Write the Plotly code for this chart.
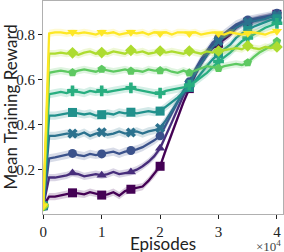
import plotly.graph_objects as go

episodes = [i * 1000 for i in range(41)]

s0 = [0.04, 0.08, 0.08, 0.085, 0.09, 0.097, 0.095, 0.09, 0.10, 0.095, 0.087, 0.09, 0.10, 0.085, 0.105, 0.113, 0.118, 0.125, 0.15, 0.18, 0.215, 0.29, 0.36, 0.43, 0.50, 0.56, 0.62, 0.67, 0.71, 0.74, 0.76, 0.78, 0.80, 0.83, 0.85, 0.855, 0.86, 0.87, 0.875, 0.88, 0.89]
s1 = [0.04, 0.165, 0.165, 0.17, 0.175, 0.185, 0.18, 0.17, 0.175, 0.18, 0.175, 0.18, 0.19, 0.18, 0.185, 0.19, 0.20, 0.215, 0.235, 0.26, 0.295, 0.35, 0.41, 0.47, 0.53, 0.575, 0.63, 0.68, 0.72, 0.755, 0.775, 0.795, 0.815, 0.835, 0.85, 0.86, 0.865, 0.87, 0.875, 0.88, 0.885]
s2 = [0.04, 0.25, 0.255, 0.26, 0.265, 0.272, 0.265, 0.26, 0.27, 0.265, 0.27, 0.275, 0.28, 0.27, 0.28, 0.285, 0.29, 0.30, 0.315, 0.33, 0.35, 0.40, 0.45, 0.50, 0.55, 0.59, 0.645, 0.69, 0.73, 0.765, 0.785, 0.805, 0.825, 0.845, 0.855, 0.865, 0.87, 0.875, 0.88, 0.885, 0.895]
s3 = [0.04, 0.35, 0.35, 0.355, 0.36, 0.36, 0.355, 0.365, 0.35, 0.36, 0.366, 0.355, 0.36, 0.37, 0.36, 0.365, 0.37, 0.36, 0.37, 0.375, 0.385, 0.42, 0.46, 0.50, 0.54, 0.58, 0.625, 0.67, 0.71, 0.745, 0.77, 0.79, 0.81, 0.83, 0.845, 0.855, 0.86, 0.865, 0.87, 0.88, 0.885]
s4 = [0.04, 0.44, 0.44, 0.445, 0.45, 0.454, 0.45, 0.445, 0.45, 0.44, 0.444, 0.45, 0.445, 0.455, 0.45, 0.455, 0.45, 0.455, 0.46, 0.455, 0.46, 0.48, 0.50, 0.52, 0.545, 0.565, 0.595, 0.63, 0.66, 0.69, 0.715, 0.735, 0.755, 0.785, 0.805, 0.82, 0.835, 0.845, 0.855, 0.865, 0.87]
s5 = [0.04, 0.535, 0.54, 0.545, 0.54, 0.55, 0.545, 0.54, 0.55, 0.545, 0.55, 0.545, 0.55, 0.555, 0.56, 0.563, 0.555, 0.55, 0.545, 0.54, 0.54, 0.55, 0.555, 0.56, 0.565, 0.575, 0.59, 0.61, 0.63, 0.655, 0.68, 0.70, 0.72, 0.745, 0.77, 0.785, 0.80, 0.815, 0.83, 0.84, 0.85]
s6 = [0.04, 0.63, 0.635, 0.64, 0.635, 0.631, 0.64, 0.645, 0.64, 0.635, 0.646, 0.64, 0.635, 0.64, 0.645, 0.638, 0.64, 0.635, 0.645, 0.64, 0.64, 0.645, 0.635, 0.63, 0.64, 0.63, 0.64, 0.65, 0.66, 0.655, 0.65, 0.66, 0.665, 0.67, 0.665, 0.675, 0.70, 0.72, 0.735, 0.75, 0.77]
s7 = [0.04, 0.715, 0.715, 0.72, 0.715, 0.719, 0.71, 0.72, 0.725, 0.715, 0.72, 0.715, 0.725, 0.72, 0.715, 0.73, 0.72, 0.725, 0.715, 0.72, 0.727, 0.72, 0.725, 0.72, 0.715, 0.727, 0.72, 0.715, 0.725, 0.72, 0.727, 0.73, 0.735, 0.74, 0.735, 0.75, 0.74, 0.735, 0.745, 0.74, 0.745]
s8 = [0.04, 0.805, 0.81, 0.81, 0.805, 0.81, 0.805, 0.81, 0.805, 0.80, 0.81, 0.805, 0.81, 0.80, 0.805, 0.81, 0.805, 0.81, 0.80, 0.81, 0.805, 0.81, 0.80, 0.81, 0.81, 0.805, 0.81, 0.80, 0.805, 0.81, 0.805, 0.80, 0.81, 0.805, 0.80, 0.806, 0.81, 0.805, 0.80, 0.81, 0.815]

series = [s0, s1, s2, s3, s4, s5, s6, s7, s8]
band = [0.016, 0.016, 0.018, 0.018, 0.018, 0.018, 0.016, 0.016, 0.016]
colors = ["#440154", "#472d7b", "#3b528b", "#2c728e", "#21918c", "#28ae80", "#5ec962", "#addc30", "#fde725"]
symbols = ["square", "triangle-up", "circle", "x", "square", "cross", "pentagon", "diamond", "triangle-down"]

xtick_vals = [0, 10000, 20000, 30000, 40000]
xtick_text = ["0", "1", "2", "3", "4"]
ytick_vals = [0.2, 0.4, 0.6, 0.8]
ytick_text = ["0.2", "0.4", "0.6", "0.8"]


def rgba(h, a):
    h = h.lstrip("#")
    return "rgba(%d,%d,%d,%s)" % (int(h[0:2], 16), int(h[2:4], 16), int(h[4:6], 16), a)


fig = go.Figure()
for ys, b, c, sym in zip(series, band, colors, symbols):
    upper = [v + b for v in ys]
    lower = [v - b for v in ys]
    fig.add_trace(go.Scatter(x=episodes + episodes[::-1], y=upper + lower[::-1],
                             fill="toself", fillcolor=rgba(c, 0.2), line=dict(width=0),
                             mode="lines", hoverinfo="skip", showlegend=False))
    fig.add_trace(go.Scatter(x=episodes, y=ys, mode="lines",
                             line=dict(color=c, width=2.3), showlegend=False))
    fig.add_trace(go.Scatter(x=episodes[::5], y=ys[::5], mode="markers",
                             marker=dict(symbol=sym, color=c, size=9, line=dict(width=0)),
                             showlegend=False))

axis_common = dict(showgrid=False, zeroline=False, showline=True, linecolor="#b0b0b0",
                   linewidth=1, mirror=True, ticks="outside", ticklen=4, tickwidth=1,
                   tickcolor="#222222", automargin=False,
                   tickfont=dict(family="Liberation Serif", size=15, color="#222222"))

fig.update_xaxes(range=[-50, 41040], tickvals=xtick_vals, ticktext=xtick_text, **axis_common)
fig.update_yaxes(range=[0.003, 0.949], tickvals=ytick_vals, ticktext=ytick_text, **axis_common)

fig.update_layout(
    width=284, height=252,
    margin=dict(l=43, r=1, t=1, b=38, autoexpand=False),
    plot_bgcolor="white", paper_bgcolor="white",
    annotations=[
        dict(text="Mean Training Reward", xref="paper", yref="paper", x=-0.1375, y=0.5,
             xanchor="center", yanchor="middle", textangle=-90, showarrow=False,
             font=dict(family="Lato", size=17, color="#222222")),
        dict(text="Episodes", xref="paper", yref="paper", x=0.5, y=-0.137,
             xanchor="center", yanchor="middle", showarrow=False,
             font=dict(family="Lato", size=17, color="#222222")),
        dict(text="×10<sup>4</sup>", xref="paper", yref="paper", x=1.0, y=-0.15,
             xanchor="right", yanchor="middle", showarrow=False,
             font=dict(family="Liberation Serif", size=13, color="#444444")),
    ],
)

fig.write_html("out.html", config={"displayModeBar": False},
               post_script="document.body.style.margin='0px';document.body.style.padding='0px';")
